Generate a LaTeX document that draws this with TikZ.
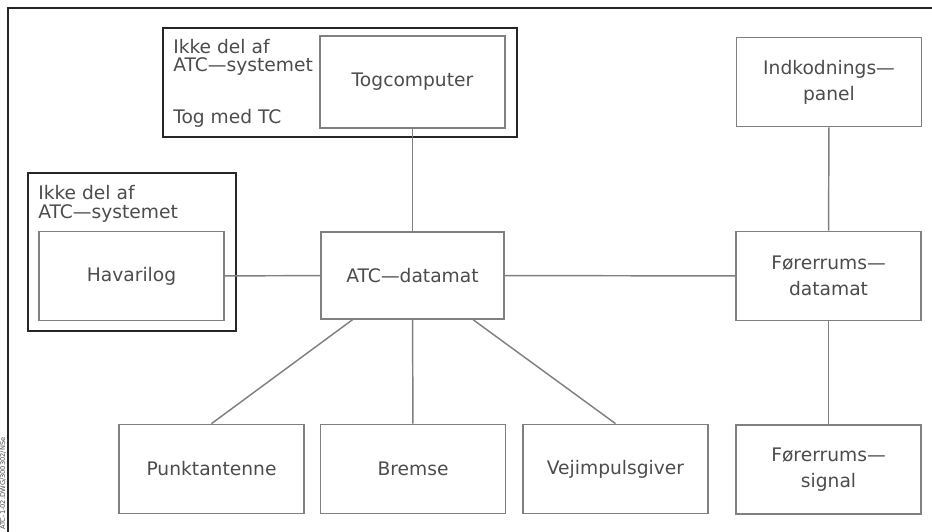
\documentclass[tikz,border=0pt]{standalone}
\usepackage{fontspec}
\setmainfont{DejaVu Sans}

\begin{document}
\begin{tikzpicture}[x=0.75pt,y=-0.75pt,
  unit/.style={draw=black!50,line width=1.1pt,minimum width=138.75pt,minimum height=67pt,
    text=black!70,font=\fontsize{14}{19.5}\selectfont,align=center},
  lbl/.style={anchor=base west,inner sep=0pt,text=black!70,font=\fontsize{14}{17}\selectfont},
  link/.style={draw=black!50,line width=1.1pt}]
  \useasboundingbox (0,0) rectangle (932,532);
  \draw[line width=1.5pt,color=black!85] (8,532) -- (8,8) -- (932,8);
  \node[rotate=90,anchor=west,inner sep=0pt,text=black!70,font=\fontsize{5}{5}\selectfont] (dwg) at (3,530) {ATC-1-02.DWG/300302/NSe};

  \draw[line width=1.1pt,color=black!85] (163,28) rectangle (517,137);
  \draw[line width=1.1pt,color=black!85] (28,173) rectangle (236,331);
  \node[lbl] (grp1a) at (173,53) {Ikke del af};
  \node[lbl] (grp1b) at (173,71) {ATC---systemet};
  \node[lbl] (grp1c) at (173,123) {Tog med TC};
  \node[lbl] (grp2a) at (38,199) {Ikke del af};
  \node[lbl] (grp2b) at (38,218) {ATC---systemet};

  \node[unit,minimum height=69pt] (tog) at (412.5,82) {Togcomputer};
  \node[unit] (havari) at (131.5,276) {Havarilog};
  \node[unit,minimum width=137.25pt,minimum height=65.25pt] (atc) at (412.5,275.5) {ATC---datamat};
  \node[unit] (indk) at (829,82) {Indkodnings---\\panel};
  \node[unit] (fdat) at (828.5,276) {Førerrums---\\datamat};
  \node[unit] (fsig) at (828.5,469.5) {Førerrums---\\signal};
  \node[unit] (punkt) at (211.5,469) {Punktantenne};
  \node[unit] (bremse) at (413,469) {Bremse};
  \node[unit] (vej) at (615.5,469) {Vejimpulsgiver};

  \draw[link] (tog) -- (atc);
  \draw[link] (havari) -- (atc);
  \draw[link] (atc) -- (fdat);
  \draw[link] (indk) -- (fdat);
  \draw[link] (fdat) -- (fsig);
  \draw[link] (atc) -- (punkt.north);
  \draw[link] (atc) -- (bremse);
  \draw[link] (atc) -- (vej.north);
\end{tikzpicture}
\end{document}
